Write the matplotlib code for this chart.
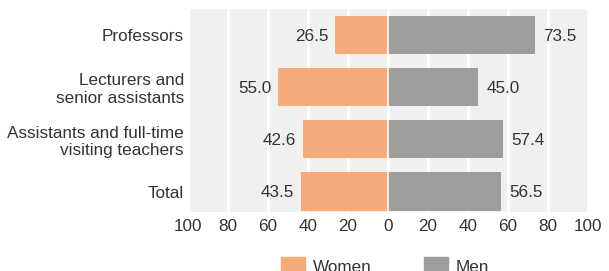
import matplotlib.pyplot as plt
from matplotlib.patches import Patch

# --- data ---
categories = ['Professors', 'Lecturers and\nsenior assistants',
              'Assistants and full-time\nvisiting teachers', 'Total']
women = [26.5, 55.0, 42.6, 43.5]
men = [73.5, 45.0, 57.4, 56.5]

c_women = '#F5AC7A'
c_men = '#9D9D9C'
txt = '#333333'
fs = 12.3

plt.rcParams['font.family'] = ['Liberation Sans', 'DejaVu Sans']

fig = plt.figure(figsize=(6.09, 2.71), dpi=100)
ax = fig.add_axes([188 / 609, 1 - 212 / 271, 400 / 609, 203 / 271])
ax.set_facecolor('#F0F0F0')

y = list(range(len(categories)))
ax.barh(y, [-w for w in women], height=0.73, color=c_women, zorder=3)
ax.barh(y, men, height=0.73, color=c_men, zorder=3)
ax.axvline(0, color='white', lw=1.2, zorder=4)

for yi, w, m in zip(y, women, men):
    ax.annotate(f'{w:.1f}', (-w, yi), xytext=(-5, -1), textcoords='offset points',
                ha='right', va='center', fontsize=fs, color=txt)
    ax.annotate(f'{m:.1f}', (m, yi), xytext=(6, -1), textcoords='offset points',
                ha='left', va='center', fontsize=fs, color=txt)

ax.set_xlim(-100, 100)
ax.set_ylim(3.39, -0.49)
ticks = list(range(-100, 101, 20))
ax.set_xticks(ticks)
ax.set_xticklabels([str(abs(t)) for t in ticks])
ax.set_yticks(y)
ax.set_yticklabels(categories)
ax.tick_params(length=0, labelsize=fs, colors=txt)
ax.tick_params(axis='y', pad=3)
ax.tick_params(axis='x', pad=5)
ax.grid(axis='x', color='white', lw=2, zorder=1)
for s in ax.spines.values():
    s.set_visible(False)

# legend sits at the bottom edge, partly clipped as in the source image
handles = [Patch(color=c_women, label='Women'), Patch(color=c_men, label='Men')]
fig.legend(handles=handles, loc='center', bbox_to_anchor=(385 / 609, 1 - 266 / 271),
           ncol=2, frameon=False, fontsize=fs, handlelength=1.4, handleheight=1.2,
           columnspacing=3.1, handletextpad=0.45, labelcolor=txt)

fig.savefig('out.png', dpi=100)
